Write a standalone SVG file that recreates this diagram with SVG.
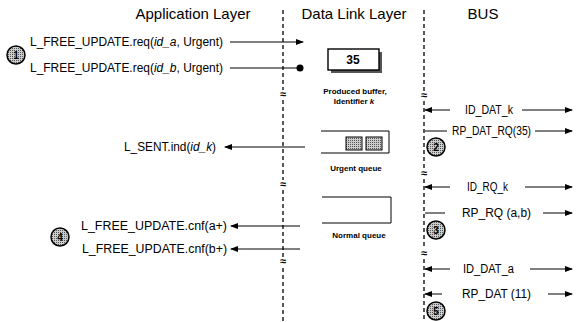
<svg xmlns="http://www.w3.org/2000/svg" width="577" height="322" viewBox="0 0 577 322">
<defs>
<marker id="ah" markerWidth="8" markerHeight="6" refX="7" refY="3" orient="auto" markerUnits="userSpaceOnUse"><path d="M0,0 L8,3 L0,6 z" fill="#000"/></marker>
<pattern id="dots" width="2" height="2" patternUnits="userSpaceOnUse"><rect width="2" height="2" fill="#ccc"/><rect width="1" height="1" fill="#555"/></pattern>
</defs>
<style>
text{font-family:"Liberation Sans",Arial,sans-serif;fill:#000}
.h{font-size:15px}
.t{font-size:12px}
.b{font-size:12px}
.s{font-size:8px;font-weight:bold}
.ln{stroke:#000;stroke-width:1;fill:none}
.a{stroke:#000;stroke-width:1;fill:none;marker-end:url(#ah)}
.dash{stroke:#000;stroke-width:1.3;stroke-dasharray:4,3;fill:none}
.c{fill:url(#dots);stroke:#000;stroke-width:1.5}
.n{font-size:10px;font-weight:bold;text-anchor:middle}
.ap{font-size:11px;font-weight:bold;text-anchor:middle}
</style>
<rect width="577" height="322" fill="#fff"/>
<g id="headers">
<text class="h" x="193" y="19" text-anchor="middle">Application Layer</text>
<text class="h" x="354" y="19" text-anchor="middle">Data Link Layer</text>
<text class="h" x="483" y="19" text-anchor="middle">BUS</text>
</g>
<g id="lifelines">
<path class="dash" d="M283,10 V90 M283,100 V180 M283,190 V258 M283,268 V322"/>
<path class="dash" d="M424,10 V91 M424,101 V169 M424,179 V249 M424,259 V322"/>
<text class="ap" x="283" y="98">≈</text>
<text class="ap" x="283" y="188">≈</text>
<text class="ap" x="283" y="265">≈</text>
<text class="ap" x="424" y="99">≈</text>
<text class="ap" x="424" y="177">≈</text>
<text class="ap" x="424" y="257">≈</text>
</g>
<g id="connectors">
<line class="a" x1="230" y1="42" x2="303" y2="42"/>
<line class="ln" x1="230" y1="68" x2="299" y2="68"/>
<circle cx="300" cy="68" r="3.5" fill="#000"/>
<line class="a" x1="305" y1="147" x2="225" y2="147"/>
<line class="a" x1="300" y1="226" x2="231" y2="226"/>
<line class="a" x1="300" y1="249" x2="231" y2="249"/>
<line class="a" x1="450" y1="110" x2="425" y2="110"/>
<line class="a" x1="522" y1="110" x2="572" y2="110"/>
<line class="ln" x1="425" y1="131" x2="447" y2="131"/>
<line class="a" x1="535" y1="131" x2="572" y2="131"/>
<line class="a" x1="450" y1="187" x2="425" y2="187"/>
<line class="a" x1="525" y1="187" x2="572" y2="187"/>
<line class="ln" x1="425" y1="213" x2="445" y2="213"/>
<line class="a" x1="543" y1="213" x2="572" y2="213"/>
<line class="a" x1="450" y1="269" x2="425" y2="269"/>
<line class="a" x1="530" y1="269" x2="572" y2="269"/>
<line class="a" x1="442" y1="294" x2="425" y2="294"/>
<line class="a" x1="548" y1="294" x2="572" y2="294"/>
</g>
<g id="app-labels">
<text class="t" x="223" y="46" text-anchor="end" textLength="193" lengthAdjust="spacingAndGlyphs">L_FREE_UPDATE.req(<tspan font-style="italic">id_a</tspan>, Urgent)</text>
<text class="t" x="223" y="72" text-anchor="end" textLength="193" lengthAdjust="spacingAndGlyphs">L_FREE_UPDATE.req(<tspan font-style="italic">id_b</tspan>, Urgent)</text>
<text class="t" x="216" y="151" text-anchor="end" textLength="92" lengthAdjust="spacingAndGlyphs">L_SENT.ind(<tspan font-style="italic">id_k</tspan>)</text>
<text class="t" x="227" y="230" text-anchor="end" textLength="146" lengthAdjust="spacingAndGlyphs">L_FREE_UPDATE.cnf(a+)</text>
<text class="t" x="227" y="253" text-anchor="end" textLength="145" lengthAdjust="spacingAndGlyphs">L_FREE_UPDATE.cnf(b+)</text>
</g>
<g id="bus-labels">
<text class="b" x="465" y="114" textLength="48" lengthAdjust="spacingAndGlyphs">ID_DAT_k</text>
<text class="b" x="452" y="135" textLength="79" lengthAdjust="spacingAndGlyphs">RP_DAT_RQ(35)</text>
<text class="b" x="467" y="191" textLength="41" lengthAdjust="spacingAndGlyphs">ID_RQ_k</text>
<text class="b" x="462" y="217" textLength="69" lengthAdjust="spacingAndGlyphs">RP_RQ (a,b)</text>
<text class="b" x="463" y="273" textLength="51" lengthAdjust="spacingAndGlyphs">ID_DAT_a</text>
<text class="b" x="462" y="298" textLength="69" lengthAdjust="spacingAndGlyphs">RP_DAT (11)</text>
</g>
<g id="buffer">
<rect x="331" y="52" width="51" height="21" fill="#555"/>
<rect x="328" y="49" width="51" height="21" fill="#fff" stroke="#000" stroke-width="1.4"/>
<text x="353" y="64" font-size="12" font-weight="bold" text-anchor="middle">35</text>
<text class="s" x="355" y="94" text-anchor="middle">Produced buffer,</text>
<text class="s" x="354" y="104" text-anchor="middle">Identifier <tspan font-style="italic">k</tspan></text>
</g>
<g id="urgent-queue">
<path class="ln" stroke-width="1.4" d="M321,131 H389 V153 H321"/>
<rect x="346" y="137" width="16" height="13" fill="url(#dots)" stroke="#000"/>
<rect x="366" y="137" width="16" height="13" fill="url(#dots)" stroke="#000"/>
<text class="s" x="356" y="171" text-anchor="middle">Urgent queue</text>
</g>
<g id="normal-queue">
<path class="ln" stroke-width="1.4" d="M322,197 H391 V223 H322"/>
<text class="s" x="359" y="238" text-anchor="middle">Normal queue</text>
</g>
<g id="step1"><circle class="c" cx="16" cy="55" r="9"/><text class="n" x="16" y="59">1</text></g>
<g id="step2"><circle class="c" cx="436" cy="147" r="9"/><text class="n" x="436" y="151">2</text></g>
<g id="step3"><circle class="c" cx="436" cy="230" r="9"/><text class="n" x="436" y="234">3</text></g>
<g id="step4"><circle class="c" cx="60" cy="237" r="9"/><text class="n" x="60" y="241">4</text></g>
<g id="step5"><circle class="c" cx="436" cy="311" r="9"/><text class="n" x="436" y="315">5</text></g>
</svg>
